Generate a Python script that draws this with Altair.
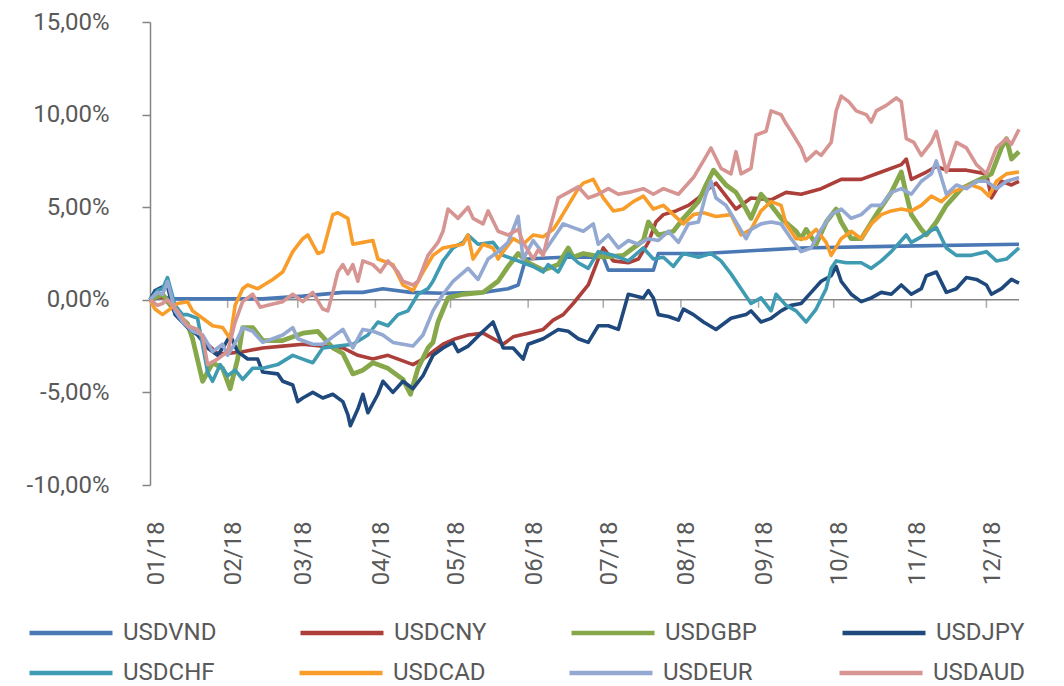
import altair as alt
import pandas as pd

START = pd.Timestamp("2018-01-01")
END_DAY = 347

row1_names = ["USDVND", "USDCNY", "USDGBP", "USDJPY"]
row1_colors = ["#4a78b5", "#ad3f3b", "#87a84a", "#1f497d"]
row2_names = ["USDCHF", "USDCAD", "USDEUR", "USDAUD"]
row2_colors = ["#3e9bb2", "#f99d2a", "#93a9d2", "#d69592"]

y_ticks = [-10, -5, 0, 5, 10, 15]

# days since 2018-01-01, values in %
vnd_days = [0, 5, 10, 30, 45, 55, 61, 77, 85, 93, 104, 117, 133, 143, 147, 150, 165, 181, 183, 201, 203, 221, 260, 300, 347]
vnd_vals = [0.0, 0.15, 0.05, 0.05, 0.05, 0.15, 0.2, 0.4, 0.4, 0.6, 0.4, 0.35, 0.4, 0.6, 0.8, 2.2, 2.3, 2.3, 1.6, 1.6, 2.5, 2.5, 2.8, 2.9, 3.0]

cny_days = [0, 5, 11, 17, 23, 27, 31, 37, 45, 53, 61, 69, 77, 83, 89, 95, 101, 105, 109, 117,
            122, 127, 133, 137, 141, 145, 151, 157, 161, 165, 169, 175, 179, 181, 185, 191, 195, 199, 202, 205,
            210, 215, 219, 223, 226, 230, 234, 240, 248, 254, 260, 268, 276, 284, 292, 300, 302, 304, 310, 314,
            318, 326, 334, 336, 340, 344, 347]
cny_vals = [0, 0.2, -0.8, -1.6, -2.4, -2.9, -2.9, -2.8, -2.6, -2.5, -2.4, -2.5, -2.6, -3.0, -3.2, -3.0, -3.3, -3.5, -3.2, -2.4,
            -2.1, -1.9, -1.8, -2.1, -2.4, -2.0, -1.8, -1.6, -1.1, -0.8, -0.2, 0.8, 2.2, 2.8, 2.1, 2.0, 2.2, 3.1, 4.2, 4.6,
            4.8, 5.1, 5.5, 6.0, 6.3, 5.6, 4.9, 5.5, 5.4, 5.8, 5.7, 6.0, 6.5, 6.5, 6.9, 7.3, 7.6, 6.5, 6.9, 7.2,
            7.0, 7.0, 6.8, 5.5, 6.4, 6.2, 6.4]

gbp_days = [0, 5, 11, 15, 17, 21, 25, 29, 32, 35, 37, 41, 45, 53, 61, 67, 73, 77, 81, 85,
            89, 95, 101, 104, 107, 111, 113, 115, 119, 125, 133, 139, 143, 147, 151, 157, 163, 167, 169, 173,
            181, 189, 197, 199, 203, 209, 213, 219, 222, 225, 230, 234, 238, 240, 244, 248, 252, 258, 260, 262,
            266, 270, 274, 276, 280, 284, 290, 296, 300, 302, 304, 308, 310, 314, 318, 324, 330, 336, 340, 342,
            344, 347]
gbp_vals = [0, 0.3, -0.8, -1.3, -2.1, -4.4, -3.4, -3.7, -4.8, -3.2, -1.5, -1.5, -2.2, -2.2, -1.8, -1.7, -2.6, -2.9, -4.0, -3.8,
            -3.4, -3.7, -4.3, -5.1, -3.7, -2.6, -2.3, -1.2, 0.1, 0.3, 0.4, 1.0, 1.8, 2.5, 2.0, 1.6, 1.9, 2.8, 2.3, 2.5,
            2.3, 2.4, 3.2, 4.2, 3.5, 3.7, 4.4, 5.3, 6.2, 7.0, 6.2, 5.8, 4.9, 4.4, 5.7, 5.1, 4.4, 3.7, 3.3, 3.8,
            3.0, 4.2, 4.9, 4.2, 3.3, 3.3, 4.6, 5.8, 6.9, 5.7, 4.6, 3.8, 3.5, 4.2, 5.1, 6.0, 6.4, 6.8, 8.2, 8.7,
            7.6, 8.0]

jpy_days = [0, 2, 5, 7, 10, 15, 19, 23, 27, 30, 32, 35, 39, 43, 45, 51, 53, 57, 59, 61,
            65, 69, 73, 77, 79, 80, 83, 85, 87, 91, 93, 97, 101, 105, 109, 113, 117, 121, 123, 127,
            133, 137, 141, 145, 149, 151, 157, 163, 167, 171, 175, 179, 183, 187, 191, 197, 199, 201, 203, 207,
            211, 213, 217, 221, 226, 232, 238, 240, 244, 248, 252, 256, 260, 264, 268, 272, 274, 276, 280, 284,
            288, 292, 296, 300, 304, 308, 310, 314, 318, 322, 326, 330, 334, 336, 340, 344, 347]
jpy_vals = [0, 0.5, 0.7, 0.7, -0.8, -1.5, -1.9, -2.6, -3.0, -2.4, -1.9, -2.8, -3.2, -3.2, -3.9, -4.0, -4.4, -4.6, -5.5, -5.3,
            -5.0, -5.3, -5.1, -5.5, -6.2, -6.8, -5.9, -5.1, -6.1, -5.1, -4.4, -5.0, -4.4, -4.8, -4.1, -3.0, -2.6, -2.3, -2.8, -2.5,
            -1.7, -1.2, -2.6, -2.6, -3.2, -2.4, -2.1, -1.6, -1.7, -2.1, -2.3, -1.4, -1.4, -1.6, 0.3, 0.1, 0.5, 0.1, -0.8, -0.9,
            -1.1, -0.5, -0.8, -1.2, -1.6, -1.0, -0.8, -0.6, -1.2, -1.0, -0.6, -0.3, -0.2, 0.4, 1.0, 1.3, 1.8, 1.0, 0.3, -0.1,
            0.1, 0.4, 0.3, 0.8, 0.3, 0.6, 1.3, 1.5, 0.4, 0.6, 1.2, 1.1, 0.8, 0.3, 0.6, 1.1, 0.9]

chf_days = [0, 3, 5, 7, 10, 13, 15, 19, 23, 25, 28, 31, 34, 37, 41, 45, 51, 57, 61, 65,
            69, 75, 81, 87, 91, 95, 99, 103, 107, 111, 113, 117, 121, 125, 127, 131, 137, 141, 145, 149,
            153, 157, 159, 163, 167, 171, 175, 179, 185, 191, 197, 201, 205, 209, 213, 219, 224, 228, 232, 236,
            240, 244, 248, 250, 254, 258, 262, 266, 270, 272, 274, 278, 284, 288, 292, 296, 302, 304, 308, 314,
            318, 322, 328, 334, 338, 342, 347]
chf_vals = [0, 0.5, 0.6, 1.2, -0.3, -0.8, -0.8, -1.0, -3.9, -4.4, -3.5, -4.1, -3.8, -4.3, -3.7, -3.7, -3.5, -3.0, -3.2, -3.4,
            -2.6, -2.5, -2.4, -1.9, -1.2, -1.4, -0.8, -0.6, 0.3, 0.6, 1.0, 2.1, 2.8, 3.1, 3.5, 3.0, 3.1, 2.4, 2.2, 2.0,
            1.8, 1.5, 1.9, 1.5, 2.5, 2.0, 1.7, 2.6, 2.4, 2.1, 2.8, 2.2, 2.3, 1.8, 2.5, 2.3, 2.5, 2.1, 1.4, 0.6,
            -0.2, 0.1, -0.6, 0.3, -0.3, -0.6, -1.2, -0.5, 0.6, 1.7, 2.1, 2.0, 2.0, 1.7, 2.1, 2.6, 3.5, 3.1, 3.4, 3.9,
            2.8, 2.4, 2.4, 2.6, 2.1, 2.2, 2.8]

cad_days = [0, 2, 5, 7, 11, 15, 17, 21, 25, 29, 32, 34, 37, 39, 43, 49, 53, 57, 61, 63,
            65, 67, 69, 71, 73, 75, 79, 81, 85, 89, 91, 97, 101, 105, 109, 113, 117, 121, 125, 127,
            129, 133, 137, 139, 141, 145, 149, 153, 157, 161, 163, 167, 171, 173, 177, 181, 185, 189, 193, 197,
            201, 205, 209, 213, 217, 221, 226, 232, 236, 240, 244, 248, 252, 254, 258, 262, 266, 270, 272, 276,
            280, 284, 288, 292, 296, 300, 304, 308, 312, 316, 320, 324, 328, 332, 335, 338, 342, 347]
cad_vals = [0, -0.5, -0.8, -0.6, -0.2, -0.1, -0.6, -1.0, -1.4, -1.5, -2.1, -0.3, 0.6, 0.8, 0.6, 1.1, 1.5, 2.6, 3.3, 3.5,
            3.0, 2.5, 2.6, 3.6, 4.6, 4.7, 4.4, 3.0, 3.1, 3.2, 2.2, 1.9, 0.8, 0.5, 1.5, 2.4, 2.8, 2.9, 3.0, 3.5,
            2.2, 3.0, 2.8, 2.2, 2.6, 3.3, 3.0, 3.5, 3.4, 3.8, 4.2, 5.1, 6.0, 6.3, 6.5, 5.5, 4.8, 4.9, 5.3, 5.6,
            4.9, 5.1, 4.6, 4.1, 4.6, 4.7, 4.5, 4.6, 3.5, 3.8, 4.8, 5.3, 5.1, 4.1, 3.3, 3.3, 3.8, 3.1, 2.4, 3.3,
            3.7, 3.3, 4.1, 4.6, 4.8, 4.9, 4.8, 5.1, 5.6, 5.3, 5.8, 6.0, 6.2, 6.0, 5.6, 6.4, 6.8, 6.9]

eur_days = [0, 3, 5, 7, 10, 13, 17, 21, 25, 29, 31, 35, 37, 41, 45, 49, 53, 57, 59, 65,
            69, 73, 77, 81, 85, 89, 93, 97, 101, 105, 109, 113, 117, 121, 127, 131, 135, 139, 143, 147,
            149, 153, 157, 159, 163, 165, 169, 173, 177, 179, 183, 187, 191, 195, 199, 203, 207, 211, 215, 219,
            222, 224, 226, 230, 234, 238, 240, 244, 248, 252, 256, 260, 264, 268, 272, 276, 280, 284, 288, 292,
            296, 300, 304, 308, 312, 314, 318, 322, 326, 330, 334, 338, 342, 347]
eur_vals = [0, 0.4, 0.3, 1.0, -0.6, -1.2, -1.7, -1.9, -2.8, -2.4, -3.0, -2.1, -1.5, -1.7, -2.3, -2.1, -1.9, -1.5, -2.1, -2.4,
            -2.4, -2.0, -1.6, -2.6, -1.6, -1.7, -1.9, -2.3, -2.4, -2.5, -1.9, -0.6, 0.3, 1.0, 1.7, 1.1, 2.2, 2.6, 3.1, 4.5,
            2.2, 3.2, 2.5, 2.9, 3.7, 4.1, 3.9, 3.7, 4.1, 3.0, 3.5, 2.8, 3.2, 3.0, 3.3, 3.2, 3.7, 3.1, 4.1, 4.2,
            5.7, 6.4, 5.5, 5.1, 4.2, 3.3, 3.8, 4.1, 4.2, 4.1, 3.3, 2.6, 2.8, 3.8, 4.6, 4.9, 4.4, 4.6, 5.1, 5.1,
            5.8, 6.0, 5.7, 6.4, 6.8, 7.5, 5.7, 6.2, 6.0, 6.4, 6.4, 6.0, 6.4, 6.6]

aud_days = [0, 3, 5, 7, 11, 15, 19, 21, 23, 27, 31, 34, 37, 41, 44, 47, 53, 57, 61, 65,
            69, 71, 73, 75, 77, 79, 81, 83, 85, 89, 92, 95, 99, 101, 105, 107, 111, 115, 117, 119,
            123, 127, 129, 133, 135, 139, 143, 147, 149, 153, 155, 157, 159, 163, 167, 171, 175, 179, 183, 187,
            191, 197, 201, 205, 211, 217, 221, 224, 228, 232, 234, 236, 240, 242, 246, 248, 252, 254, 256, 260,
            262, 266, 268, 272, 274, 276, 279, 282, 286, 288, 290, 294, 298, 300, 302, 305, 308, 312, 314, 318,
            322, 326, 330, 334, 338, 342, 344, 347]
aud_vals = [0, -0.3, -0.2, 0.0, -0.6, -1.4, -1.6, -2.0, -3.5, -3.2, -2.8, -1.2, -0.1, 0.3, -0.4, -0.3, -0.1, 0.3, -0.1, 0.4,
            -0.5, -0.6, 0.4, 1.5, 1.9, 1.4, 1.9, 1.0, 2.1, 1.9, 1.5, 2.1, 1.5, 1.0, 0.8, 1.0, 2.4, 3.1, 3.7, 4.9,
            4.4, 5.0, 4.4, 4.1, 4.8, 3.7, 3.5, 3.8, 3.1, 2.2, 2.7, 2.4, 3.5, 5.5, 5.8, 6.1, 5.5, 5.7, 6.0, 5.7,
            5.8, 6.0, 5.7, 6.0, 5.7, 6.6, 7.5, 8.2, 7.1, 6.8, 8.0, 6.8, 7.1, 8.9, 9.1, 10.2, 10.0, 9.5, 9.1, 8.2,
            7.5, 8.0, 7.8, 8.5, 10.2, 11.0, 10.7, 10.2, 10.0, 9.6, 10.2, 10.5, 10.9, 10.7, 8.7, 8.5, 7.8, 8.5, 9.1, 6.9,
            8.5, 8.2, 7.3, 6.8, 8.2, 8.7, 8.4, 9.2]

row1_data = [("USDVND", vnd_days, vnd_vals), ("USDCNY", cny_days, cny_vals),
             ("USDGBP", gbp_days, gbp_vals), ("USDJPY", jpy_days, jpy_vals)]
row2_data = [("USDCHF", chf_days, chf_vals), ("USDCAD", cad_days, cad_vals),
             ("USDEUR", eur_days, eur_vals), ("USDAUD", aud_days, aud_vals)]


def build(series_list):
    rows = []
    for name, days, vals in series_list:
        for d, v in zip(days, vals):
            rows.append({"date": START + pd.Timedelta(days=d), "value": v, "series": name})
    return pd.DataFrame(rows)


df1 = build(row1_data)
df2 = build(row2_data)

month_starts = pd.date_range("2018-01-01", periods=12, freq="MS")
tick_df = pd.DataFrame({"date": month_starts[1:], "value": 0})
zero_df = pd.DataFrame({"date": [START], "end": [START + pd.Timedelta(days=END_DAY)], "value": [0]})

TEXT = "#595959"
AXIS = "#858585"
FONT_SIZE = 24

x_scale = alt.Scale(domain=[alt.DateTime(year=2018, month=1, date=1),
                            alt.DateTime(year=2018, month=12, date=14)])
y_scale = alt.Scale(domain=[-10, 15], nice=False, zero=False)

month_vals = [alt.DateTime(year=2018, month=m, date=1) for m in range(1, 13)]
minus = chr(0x2212)
label_expr = f"replace(replace(format(datum.value, '.2f'), '.', ','), '{minus}', '-') + '%'"

x_axis = alt.Axis(values=month_vals, format="%m/%y", labelAngle=-90, domain=False,
                  ticks=False, grid=False, labelPadding=36, labelOffset=6,
                  labelFontSize=FONT_SIZE, labelColor=TEXT, title=None)
y_axis = alt.Axis(values=y_ticks, labelExpr=label_expr, domain=True, domainColor=AXIS,
                  domainWidth=1.5, ticks=True, tickColor=AXIS, tickSize=8, tickWidth=1.5,
                  labelPadding=33, labelFontSize=FONT_SIZE, labelColor=TEXT, grid=False, title=None)


def legend_at(y):
    return alt.Legend(
        title=None, orient="none", legendX=-123, legendY=y, direction="horizontal",
        columns=4, symbolType="stroke", symbolSize=6889, symbolStrokeWidth=4.5,
        labelFontSize=FONT_SIZE, labelColor=TEXT, labelOffset=8, labelLimit=300,
        columnPadding=74, gridAlign="all",
    )


def line_layer(data, names, colors, legend_y):
    return alt.Chart(data).mark_line(strokeJoin="round").encode(
        x=alt.X("date:T", scale=x_scale, axis=x_axis),
        y=alt.Y("value:Q", scale=y_scale, axis=y_axis),
        color=alt.Color("series:N", scale=alt.Scale(domain=names, range=colors),
                        legend=legend_at(legend_y)),
        strokeWidth=alt.condition(alt.datum.series == "USDGBP", alt.value(4.8), alt.value(3.6)),
    )


lines1 = line_layer(df1, row1_names, row1_colors, 567)
lines2 = line_layer(df2, row2_names, row2_colors, 607)

zero = alt.Chart(zero_df).mark_rule(color=AXIS, strokeWidth=1.5).encode(
    x=alt.X("date:T", scale=x_scale, axis=x_axis),
    x2="end:T",
    y=alt.Y("value:Q", scale=y_scale, axis=y_axis),
)

ticks = alt.Chart(tick_df).mark_tick(orient="vertical", size=8, thickness=1.5, yOffset=4, color=AXIS).encode(
    x=alt.X("date:T", scale=x_scale, axis=x_axis),
    y=alt.Y("value:Q", scale=y_scale, axis=y_axis),
)

chart = alt.layer(zero, ticks, lines1, lines2).resolve_scale(color="independent").properties(
    width=869, height=463,
    padding={"left": 18, "top": 2, "right": 5, "bottom": 0},
).configure(font="Roboto").configure_view(stroke=None)

chart.save("out.html", embed_options={"renderer": "svg", "actions": False})
